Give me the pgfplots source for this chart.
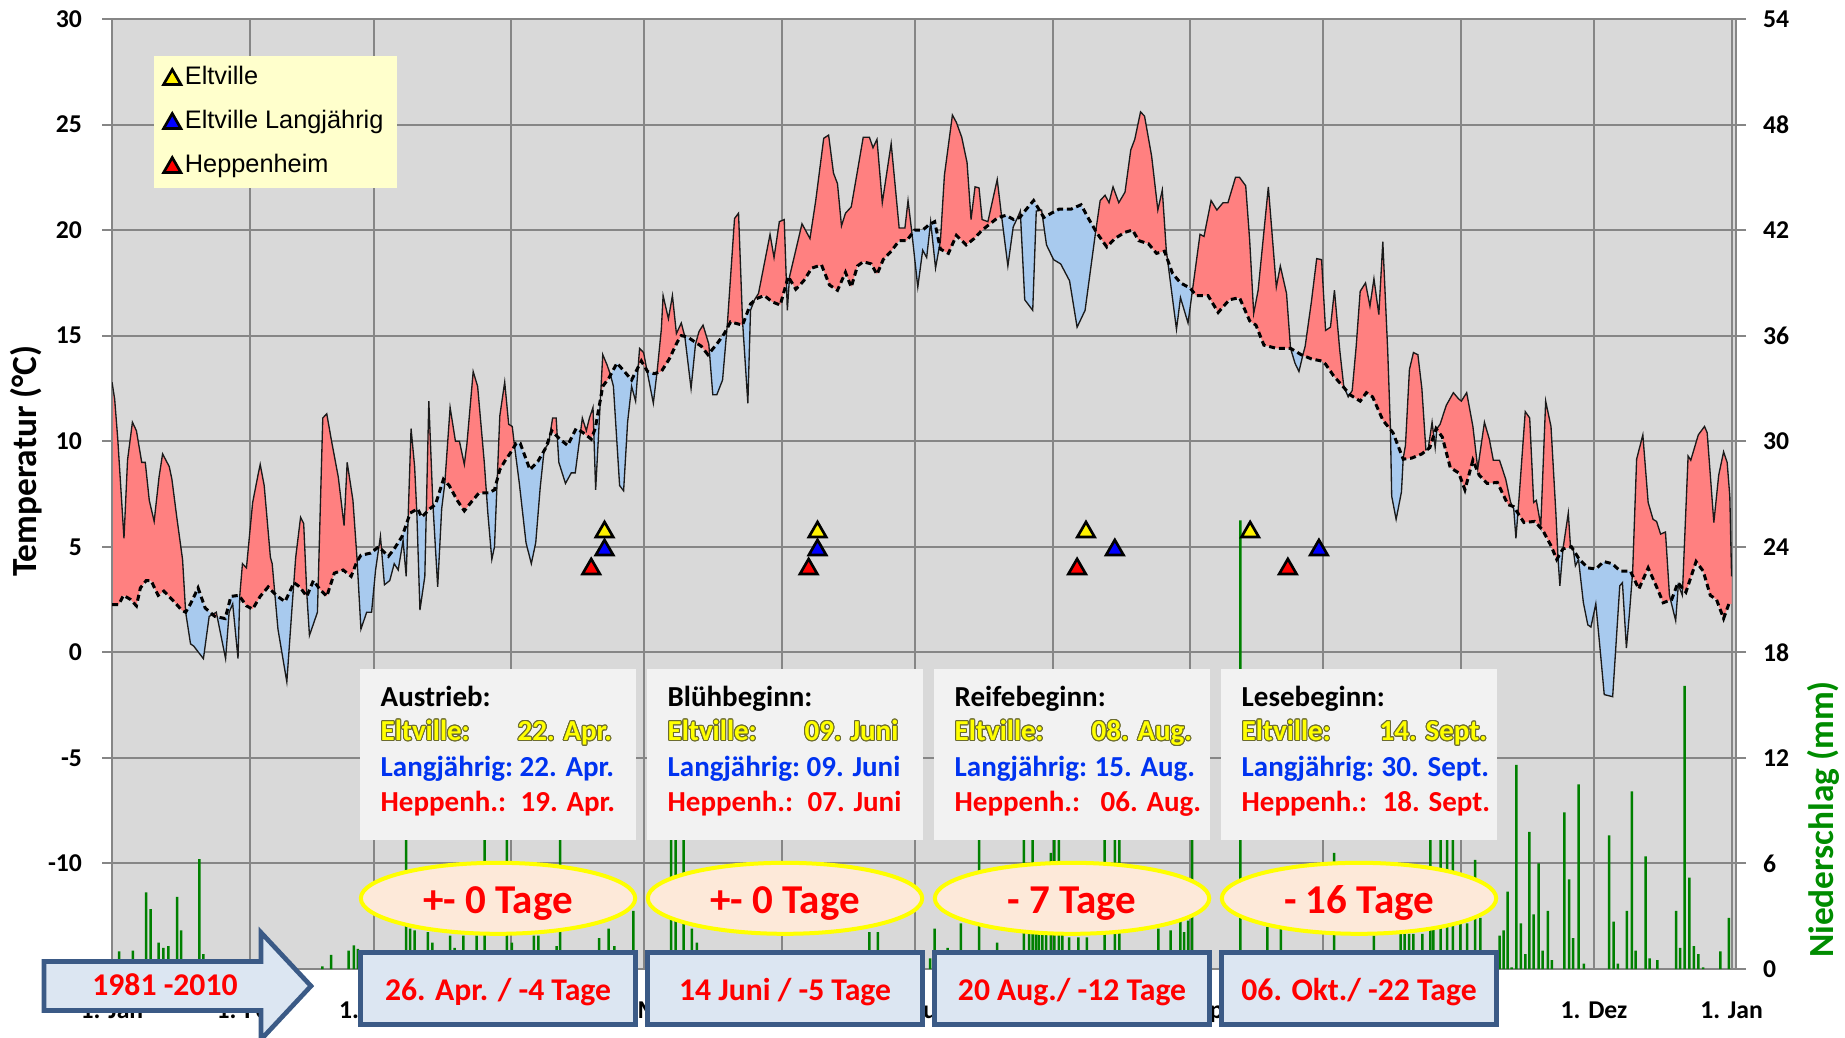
\documentclass[border=0pt]{standalone}
\usepackage{fontspec}
\setmainfont{Carlito}
\newfontfamily\arialfont{Liberation Sans}
\usepackage{pgfplots}
\usepackage{pgfplotstable}
\pgfplotsset{compat=1.18}
\usetikzlibrary{intersections}
\usepackage{contour}
\contourlength{0.3pt}
\contournumber{16}

\makeatletter
\newcommand\usenamedpath[1]{\expandafter\pgfsyssoftpath@setcurrentpath\csname tikz@intersect@path@name@#1\endcsname}
\makeatother

\definecolor{bgc}{HTML}{D9D9D9}
\definecolor{gridc}{HTML}{868686}
\definecolor{redf}{HTML}{FF8080}
\definecolor{bluef}{HTML}{A8CAEE}
\definecolor{barc}{HTML}{008000}
\definecolor{legc}{HTML}{FFFFCC}
\definecolor{infoc}{HTML}{F2F2F2}
\definecolor{ellf}{HTML}{FDE9D9}
\definecolor{yel}{HTML}{FFFF00}
\definecolor{boxf}{HTML}{DCE6F2}
\definecolor{boxd}{HTML}{3B5A86}
\definecolor{txtblue}{HTML}{0033F0}
\definecolor{txtred}{HTML}{FF0000}
\definecolor{nsgreen}{HTML}{008C00}
\definecolor{olivec}{HTML}{6B6B30}
\definecolor{linec}{HTML}{1A1A1A}

\newcommand\tickfont{\bfseries\fontsize{7.7}{9}\selectfont}
\newcommand\titlefont{\bfseries\fontsize{10.6}{12}\selectfont}
\newcommand\boxfont{\bfseries\fontsize{8.7}{10}\selectfont}
\newcommand\ellfont{\bfseries\fontsize{12.3}{14}\selectfont}
\newcommand\bbfont{\bfseries\fontsize{9.5}{11}\selectfont}
\newcommand\legfont{\arialfont\fontsize{7.6}{9}\selectfont}
\newcommand\yt[1]{{\color{yel}\contour{olivec}{#1}}}

% daily temperature Eltville
\pgfplotstableread{
day T
0 12.8
0.6 12.0
1.3 10.1
2.7 5.4
3.5 9.1
4.6 10.9
5.5 10.5
6.7 9.0
7.5 9.0
8.4 7.2
9.5 6.2
10.6 8.3
11.4 9.4
12.9 8.8
13.5 8.2
14.6 6.4
15.9 4.4
16.6 1.9
17.7 0.4
18.4 0.3
20.6 -0.3
21.9 1.7
23.5 1.9
25.6 -0.3
26.4 1.9
27.2 2.3
28.4 -0.3
28.8 2.7
29.4 4.2
30.3 4.0
31.7 7.1
33.0 8.5
33.4 8.9
34.3 7.9
35.7 4.5
36.1 4.2
37.4 1.1
39.4 -1.4
40.6 2.2
41.4 4.5
42.5 6.4
43.2 6.1
43.9 2.8
44.5 0.8
46.3 1.9
47.5 11.1
48.4 11.3
49.4 10.1
51.0 8.3
52.3 6.0
53.0 9.0
54.3 7.2
55.2 4.5
56.1 1.1
57.4 1.9
58.5 1.9
59.4 3.9
60.5 5.5
61.4 3.2
62.6 3.4
63.6 4.2
64.5 3.9
65.6 5.3
66.3 3.6
67.4 10.6
68.2 8.8
68.7 6.6
69.4 2.0
70.5 3.6
71.4 11.9
72.3 7.1
73.4 3.1
74.3 6.8
75.0 8.0
76.2 11.6
77.4 10.0
78.3 10.0
79.4 8.9
80.0 9.9
81.4 13.3
82.4 12.6
83.9 9.0
84.7 6.6
85.6 4.4
86.2 5.0
87.4 11.2
88.5 12.8
89.4 10.8
90.2 10.7
90.7 9.8
91.8 8.0
93.3 5.2
94.5 4.2
95.5 5.2
96.5 7.8
97.4 9.6
98.4 9.9
99.3 11.1
100.1 11.1
100.7 9.0
102.2 8.0
103.5 8.5
104.4 8.5
106.0 11.1
106.9 10.5
107.6 11.1
108.4 11.6
109.0 7.7
110.6 14.1
111.6 13.6
112.4 13.1
113.0 12.6
114.4 7.9
115.3 7.65
116.2 10.9
117.1 12.6
118.0 11.9
118.9 14.4
119.8 14.2
120.7 13.2
122.0 11.8
122.9 13.4
123.8 15.3
124.2 16.9
125.4 15.8
126.3 16.9
127.2 15.1
128.3 15.6
129.1 14.95
130.5 12.5
131.5 14.6
132.3 15.2
133.2 15.5
134.5 14.6
135.4 12.2
136.3 12.2
137.6 12.9
138.7 15.6
140.3 20.55
141.2 20.8
142.1 15.7
143.3 11.8
143.9 16.2
144.8 16.7
145.7 17.0
147.0 18.4
148.3 19.8
149.2 18.7
150.4 20.4
151.5 20.5
152.2 16.2
152.7 17.8
154.1 19.05
155.5 20.3
157.3 19.6
158.6 21.4
160.4 24.35
161.5 24.5
162.6 22.7
163.5 22.2
164.4 20.2
165.3 20.8
166.6 21.1
168.0 22.8
169.3 24.4
170.7 24.4
171.5 23.9
172.4 24.3
173.6 21.3
175.6 24.1
177.4 20.1
178.7 20.1
179.4 21.4
180.2 20.0
181.6 17.3
182.7 19.05
183.6 18.7
184.5 20.4
185.6 18.2
186.7 19.5
187.6 22.6
189.4 25.45
190.3 25.1
191.5 24.4
192.7 23.2
193.6 20.5
194.5 22.05
195.4 22.0
196.1 20.5
197.4 20.4
199.5 22.4
200.4 20.8
201.9 18.3
203.1 20.15
204.1 20.6
204.7 20.9
205.7 16.7
207.5 16.2
208.3 20.9
209.5 20.95
210.6 19.3
212.2 18.6
213.8 18.4
215.8 17.6
217.5 15.4
219.3 16.2
221.6 19.8
222.7 21.4
223.8 21.65
224.7 21.3
225.6 22.05
226.9 21.3
228.3 21.8
229.6 23.8
230.5 24.3
231.8 25.6
232.7 25.4
234.3 23.5
235.7 20.95
236.7 21.9
237.6 19.05
239.9 15.3
240.8 16.8
242.5 15.6
245.2 19.8
246.1 19.7
247.7 21.4
249.0 20.95
250.4 21.3
251.5 21.3
253.2 22.5
254.1 22.5
255.5 22.1
256.4 19.5
257.3 16.05
258.3 17.15
260.6 22.05
262.4 17.3
263.3 18.3
264.7 17.0
265.6 14.4
266.6 13.7
267.5 13.3
268.4 14.1
268.9 14.5
270.3 16.6
271.5 18.65
272.6 18.6
273.5 15.25
274.6 15.4
275.5 17.15
276.7 14.3
277.6 12.6
278.6 12.1
279.5 12.4
280.4 14.5
281.3 17.1
282.5 17.5
283.5 16.4
284.4 17.7
285.5 16.0
286.4 19.45
287.5 14.3
288.1 10.7
288.4 7.4
289.4 6.3
290.6 7.6
291.0 9.2
291.5 9.8
292.4 13.4
293.3 14.2
294.3 14.1
295.2 12.5
296.1 9.6
296.6 9.6
297.5 10.9
298.2 9.7
298.6 10.6
299.3 10.8
300.7 11.7
302.3 12.3
303.5 12.0
304.1 11.9
305.3 12.3
306.7 10.7
307.8 8.7
309.3 10.9
310.4 10.1
311.3 9.1
312.7 9.1
314.1 8.2
315.2 7.1
315.9 6.8
316.4 5.4
317.1 7.3
318.5 11.4
319.5 11.1
320.4 7.1
321.0 7.2
322.0 6.0
323.1 11.9
324.3 10.7
325.4 6.6
325.9 4.4
326.3 3.15
327.0 4.9
328.2 6.6
328.7 5.0
329.3 4.9
329.8 4.1
330.5 4.4
331.6 2.35
332.6 1.3
333.3 1.2
334.4 2.3
335.3 0.3
336.3 -2.0
338.2 -2.1
339.8 3.15
340.4 3.3
341.3 0.2
342.0 1.9
342.7 3.8
343.6 9.15
345.0 10.3
346.2 7.1
347.3 6.3
348.1 6.2
349.0 5.6
350.1 5.7
351.0 2.7
352.4 1.5
353.0 3.2
353.9 2.7
355.2 9.3
355.8 9.1
357.5 10.3
358.9 10.7
359.5 10.4
361.0 6.15
362.1 8.4
363.2 9.5
364.0 9.0
364.6 7.4
365.0 3.6
}\acttable

% long-term mean
\pgfplotstableread{
day T
0 2.26
1.5 2.26
2.6 2.7
4.2 2.5
5.5 2.2
6.4 3.05
7.7 3.4
8.8 3.4
10.4 2.7
11.7 2.9
12.6 2.7
14.0 2.4
15.7 2.0
16.6 1.9
17.7 2.3
19.4 3.05
21.0 2.1
23.2 1.7
25.5 1.6
26.8 2.65
28.6 2.7
30.3 2.2
31.7 2.05
33.4 2.65
35.2 3.1
37.0 2.7
39.0 2.4
41.0 3.3
42.3 3.1
43.9 2.65
45.4 3.4
46.8 3.0
48.4 2.65
50.1 3.75
52.1 3.9
53.9 3.6
55.2 4.3
56.1 4.6
58.3 4.7
60.1 5.0
62.3 4.55
63.6 4.9
65.4 5.5
67.2 6.6
68.9 6.8
69.8 6.4
71.6 6.8
72.9 7.0
74.7 8.2
76.0 7.9
77.8 7.2
79.4 6.7
80.9 7.1
82.7 7.55
84.9 7.55
86.2 7.7
87.4 8.65
88.5 9.05
89.8 9.45
91.1 9.9
92.0 9.9
94.2 8.65
96.0 9.05
97.8 9.7
99.1 10.5
100.9 10.1
102.7 9.8
104.6 10.6
106.2 10.4
108.0 10.1
108.9 10.6
110.6 12.6
112.0 13.0
113.8 13.7
115.5 13.3
117.1 12.9
119.3 13.8
120.7 13.3
122.2 13.2
123.8 13.3
125.6 13.9
127.4 14.7
128.3 15.0
129.6 14.95
131.4 14.7
132.8 14.5
134.3 14.1
136.3 14.6
138.0 15.1
139.4 15.65
142.1 15.5
143.9 16.5
145.2 16.75
147.0 16.9
148.8 16.6
150.6 16.45
152.4 17.8
154.1 17.2
155.9 17.6
157.7 18.2
159.9 18.35
161.7 17.4
163.5 17.15
165.3 18.0
166.6 17.3
168.0 18.3
169.3 18.5
171.1 18.4
172.4 17.9
173.8 18.6
175.6 19.0
177.4 19.5
179.1 19.5
180.9 20.0
182.7 20.0
184.1 20.25
185.4 20.4
186.7 19.1
188.5 18.9
190.3 19.75
192.5 19.3
194.3 19.6
196.1 20.0
197.9 20.3
199.7 20.6
201.5 20.7
203.2 20.5
204.6 20.6
205.9 20.95
207.7 21.4
210.0 20.6
211.7 20.8
213.5 21.0
216.2 21.0
218.4 21.2
220.2 20.5
222.0 19.85
224.2 19.2
226.0 19.6
228.3 19.9
230.0 20.0
231.4 19.5
233.6 19.35
235.4 18.9
237.2 19.0
239.0 17.95
240.8 17.5
243.0 17.25
244.3 16.9
247.0 16.9
249.3 16.1
251.8 16.7
254.1 16.8
256.4 15.7
257.8 15.5
259.6 14.55
260.6 14.5
262.4 14.4
265.6 14.4
268.0 14.1
270.3 13.9
272.6 13.8
273.5 13.65
275.3 13.1
277.6 12.55
279.0 12.2
281.3 11.9
282.7 12.3
284.1 12.1
286.4 11.0
288.7 10.4
291.0 9.15
292.9 9.2
295.2 9.4
297.0 9.7
298.4 10.6
299.8 10.2
301.6 8.75
303.5 8.5
304.9 7.7
306.7 9.1
308.1 8.4
309.9 8.0
312.2 8.05
314.6 7.0
315.9 6.9
318.2 6.15
320.6 6.2
322.4 5.8
324.3 5.05
325.6 4.4
327.0 4.9
328.9 5.0
330.7 4.4
332.6 4.0
334.4 3.95
336.2 4.3
338.1 4.2
339.9 3.85
342.2 3.85
344.1 3.0
346.2 4.0
348.1 3.1
349.6 2.35
351.5 2.5
352.9 3.3
354.7 2.85
357.0 4.3
358.6 3.85
360.2 2.7
361.6 2.5
363.2 1.6
364.4 2.3
365.0 2.3
}\meantable

% precipitation (mm)
\pgfplotstableread{
day mm
1.6 1.0
4.7 1.05
7.7 4.35
8.7 3.4
10.5 1.5
11.6 1.2
12.7 1.3
14.7 4.1
15.6 2.2
19.7 6.25
20.6 0.85
47.4 0.15
49.4 0.8
53.3 1.05
54.5 1.35
55.4 1.15
66.3 9.5
67.2 2.3
68.2 2.2
71.2 2.1
72.2 1.5
76.2 1.9
77.2 1.2
79.2 1.9
82.2 1.9
84.0 11.0
89.0 10.0
90.1 1.5
95.1 1.9
96.1 1.9
100.2 1.3
101.0 9.0
109.8 1.75
111.9 2.3
113.2 1.3
117.5 3.3
126.0 12.0
127.0 9.0
128.8 10.0
130.7 2.3
131.8 1.5
170.7 2.1
172.6 2.1
184.4 0.6
185.4 2.3
188.3 1.2
191.3 2.6
195.4 10.0
199.5 1.5
205.5 10.5
206.7 2.0
207.5 9.5
208.2 2.0
208.9 2.0
209.7 2.0
210.5 2.0
211.6 6.6
212.4 11.0
213.4 8.5
214.2 2.0
215.7 1.8
217.8 1.8
219.7 1.8
223.7 10.0
226.0 9.0
227.0 11.0
235.8 2.3
238.6 2.2
240.8 3.5
241.6 2.1
242.5 2.75
243.4 12.0
254.3 25.5
260.4 2.4
263.4 2.3
275.4 6.6
284.4 1.9
290.4 2.0
291.3 2.0
292.3 2.0
293.3 2.0
295.3 2.0
297.1 11.0
297.8 2.6
299.4 9.0
300.9 10.0
302.2 8.0
303.9 2.6
305.4 2.6
307.2 6.2
308.4 2.9
312.7 1.9
313.6 2.2
314.5 4.4
315.4 0.1
316.5 11.6
317.5 2.6
318.5 0.85
319.4 7.8
320.4 3.1
321.5 6.0
322.4 1.05
323.6 3.3
324.5 0.5
327.3 8.9
328.4 5.1
329.3 1.75
330.5 10.5
331.7 0.3
337.4 7.6
338.4 2.7
339.4 0.3
341.4 3.3
342.5 10.1
343.4 1.05
345.6 6.4
346.5 0.6
348.3 0.5
352.5 3.3
353.4 1.2
354.4 16.1
355.5 5.2
356.5 1.3
357.5 0.85
358.6 0.1
362.5 1.0
364.4 2.9
}\bars

\pgfplotstableread{
x y
111 5.7
159 5.7
219.5 5.7
256.5 5.7
}\eltville
\pgfplotstableread{
x y
111 4.85
159 4.85
226 4.85
272 4.85
}\langj
\pgfplotstableread{
x y
108 3.95
157 3.95
217.5 3.95
265 3.95
}\heppen

\pgfplotsset{
  chartgeom/.style={at={(33.6pt,20.4pt)}, anchor=south west,
    scale only axis, width=487.2pt, height=285pt, xmin=0, xmax=366},
}

\begin{document}
\begin{tikzpicture}
\path[use as bounding box] (0,0) rectangle (553.5pt,311.1pt);

% precipitation axis (right) with background and grid
\begin{axis}[
  chartgeom, ymin=0, ymax=54,
  axis background/.style={fill=bgc},
  axis line style={draw=gridc, line width=0.6pt},
  xtick={0,31,59,90,120,151,181,212,243,273,304,334,365},
  xticklabels={1. Jan,1. Feb,1. Mrz,{},1. Mai,{},1. Jul,{},1. Sep,{},{},1. Dez,1. Jan},
  ytick={0,6,...,54},
  yticklabels={0,6,12,18,24,30,36,42,48,54},
  xmajorgrids, ymajorgrids,
  grid style={draw=gridc, line width=0.6pt},
  ytick pos=right, yticklabel pos=right,
  xtick pos=bottom,
  tick align=outside,
  major tick length=3pt,
  xtick style={draw=none},
  ytick style={draw=gridc, line width=0.6pt},
  ticklabel style={font=\tickfont},
  xticklabel style={anchor=base, yshift=-11.9pt},
  yticklabel style={xshift=1.6pt},
]
\addplot[ybar, bar width=0.75pt, fill=barc, draw=none] table[x=day,y=mm] {\bars};
\end{axis}

% temperature axis holding the red / blue areas between the two curves
\begin{axis}[chartgeom, ymin=-15, ymax=30, hide axis]
\addplot[draw=none, name path global=actp] table[x=day,y=T] {\acttable};
\addplot[draw=none, name path global=meanp] table[x=day,y=T] {\meantable};
\pgfplotsextra{%
  % red: below the actual curve and above the mean curve
  \begin{pgfscope}
    \usenamedpath{meanp}%
    \pgfpathlineto{\pgfplotspointaxisxy{365}{30}}%
    \pgfpathlineto{\pgfplotspointaxisxy{0}{30}}%
    \pgfusepath{clip}%
    \usenamedpath{actp}%
    \pgfpathlineto{\pgfplotspointaxisxy{365}{-15}}%
    \pgfpathlineto{\pgfplotspointaxisxy{0}{-15}}%
    \pgfsetfillcolor{redf}%
    \pgfusepath{fill}%
  \end{pgfscope}
  % blue: above the actual curve and below the mean curve
  \begin{pgfscope}
    \usenamedpath{meanp}%
    \pgfpathlineto{\pgfplotspointaxisxy{365}{-15}}%
    \pgfpathlineto{\pgfplotspointaxisxy{0}{-15}}%
    \pgfusepath{clip}%
    \usenamedpath{actp}%
    \pgfpathlineto{\pgfplotspointaxisxy{365}{30}}%
    \pgfpathlineto{\pgfplotspointaxisxy{0}{30}}%
    \pgfsetfillcolor{bluef}%
    \pgfusepath{fill}%
  \end{pgfscope}
}
\end{axis}

% temperature axis (left), lines and markers
\begin{axis}[
  chartgeom, ymin=-15, ymax=30,
  axis x line=none, axis y line*=left,
  axis line style={draw=gridc, line width=0.6pt},
  ytick={-10,-5,0,5,10,15,20,25,30},
  yticklabels={-10,-5,0,5,10,15,20,25,30},
  tick align=outside, major tick length=3pt,
  ytick style={draw=gridc, line width=0.6pt},
  yticklabel style={font=\tickfont, xshift=-2.5pt},
  legend style={at={(0.0252,0.9621)}, anchor=north west, fill=legc, draw=none,
    font=\legfont, inner xsep=3pt, inner ysep=2.35pt, row sep=4.6pt,
    nodes={inner ysep=0.8pt, inner xsep=1.2pt}},
  legend cell align=left,
  legend image code/.code={\draw[#1] plot coordinates {(0pt,-0.5pt)};},
]
\addplot[draw=linec, line width=0.4pt, forget plot] table[x=day,y=T] {\acttable};
\addplot[draw=black, line width=0.9pt, dash pattern=on 1.8pt off 1.15pt, forget plot] table[x=day,y=T] {\meantable};
\addplot[only marks, mark=triangle*, mark size=3pt, mark options={fill=yellow, draw=black, line width=0.8pt}] table[x=x,y=y] {\eltville};
\addlegendentry{Eltville}
\addplot[only marks, mark=triangle*, mark size=3pt, mark options={fill=blue, draw=black, line width=0.8pt}] table[x=x,y=y] {\langj};
\addlegendentry{Eltville Langjährig}
\addplot[only marks, mark=triangle*, mark size=3pt, mark options={fill=red, draw=black, line width=0.8pt}] table[x=x,y=y] {\heppen};
\addlegendentry{Heppenheim}
\end{axis}

% overlays in pixel coordinates (origin top-left)
\begin{scope}[x=0.3pt, y=-0.3pt, shift={(0pt,311.1pt)}]
  \node[rotate=90, anchor=base, inner sep=0pt, font=\titlefont] at (36.4,461) {Temperatur (°C)};
  \node[rotate=90, anchor=base, inner sep=0pt, font=\titlefont, text=nsgreen] at (1833,819.5) {Niederschlag (mm)};

  \foreach \xa in {360,647,934,1221} {
    \fill[infoc] (\xa,669) rectangle (\xa+276,840);
    \draw[yel, line width=1.2pt, fill=ellf] (\xa+138,898.3) ellipse [x radius=41.16pt, y radius=10.65pt];
    \draw[boxd, line width=1.4pt, fill=boxf] (\xa+0.3,952.3) rectangle (\xa+275.7,1024.7);
  }
  % arrow
  \draw[boxd, line width=1.4pt, fill=boxf, line join=miter]
     (44,961.5) -- (261,961.5) -- (261,932.5) -- (311,986) -- (261,1039.5) -- (261,1010.5) -- (44,1010.5) -- cycle;
  \node[anchor=base, inner sep=0pt, font=\bbfont, text=txtred] at (165,995) {1981 -2010};

  % box texts
  \begin{scope}[every node/.style={anchor=base west, inner sep=0pt, font=\boxfont}]
    \node at (380,706) {Austrieb:};
    \node at (380,740.5) {\yt{Eltville:}};
    \node at (517,740.5) {\yt{22. Apr.}};
    \node[text=txtblue] at (380,776.5) {Langjährig:};
    \node[text=txtblue] at (519,776.5) {22. Apr.};
    \node[text=txtred] at (380,811.5) {Heppenh.:};
    \node[text=txtred] at (520,811.5) {19. Apr.};

    \node at (667,706) {Blühbeginn:};
    \node at (667,740.5) {\yt{Eltville:}};
    \node at (804,740.5) {\yt{09. Juni}};
    \node[text=txtblue] at (667,776.5) {Langjährig:};
    \node[text=txtblue] at (806,776.5) {09. Juni};
    \node[text=txtred] at (667,811.5) {Heppenh.:};
    \node[text=txtred] at (807,811.5) {07. Juni};

    \node at (954,706) {Reifebeginn:};
    \node at (954,740.5) {\yt{Eltville:}};
    \node at (1091,740.5) {\yt{08. Aug.}};
    \node[text=txtblue] at (954,776.5) {Langjährig:};
    \node[text=txtblue] at (1094,776.5) {15. Aug.};
    \node[text=txtred] at (954,811.5) {Heppenh.:};
    \node[text=txtred] at (1100,811.5) {06. Aug.};

    \node at (1241,706) {Lesebeginn:};
    \node at (1241,740.5) {\yt{Eltville:}};
    \node at (1379,740.5) {\yt{14. Sept.}};
    \node[text=txtblue] at (1241,776.5) {Langjährig:};
    \node[text=txtblue] at (1381,776.5) {30. Sept.};
    \node[text=txtred] at (1241,811.5) {Heppenh.:};
    \node[text=txtred] at (1382,811.5) {18. Sept.};
  \end{scope}

  \begin{scope}[every node/.style={anchor=base, inner sep=0pt, font=\ellfont, text=txtred}]
    \node at (498,913) {+- 0 Tage};
    \node at (785,913) {+- 0 Tage};
    \node at (1072,913) {- 7 Tage};
    \node at (1359,913) {- 16 Tage};
  \end{scope}
  \begin{scope}[every node/.style={anchor=base, inner sep=0pt, font=\bbfont, text=txtred}]
    \node at (498,1000) {26. Apr. / -4 Tage};
    \node at (785,1000) {14 Juni / -5 Tage};
    \node at (1072,1000) {20 Aug./ -12 Tage};
    \node at (1359,1000) {06. Okt./ -22 Tage};
  \end{scope}
\end{scope}
\end{tikzpicture}
\end{document}
